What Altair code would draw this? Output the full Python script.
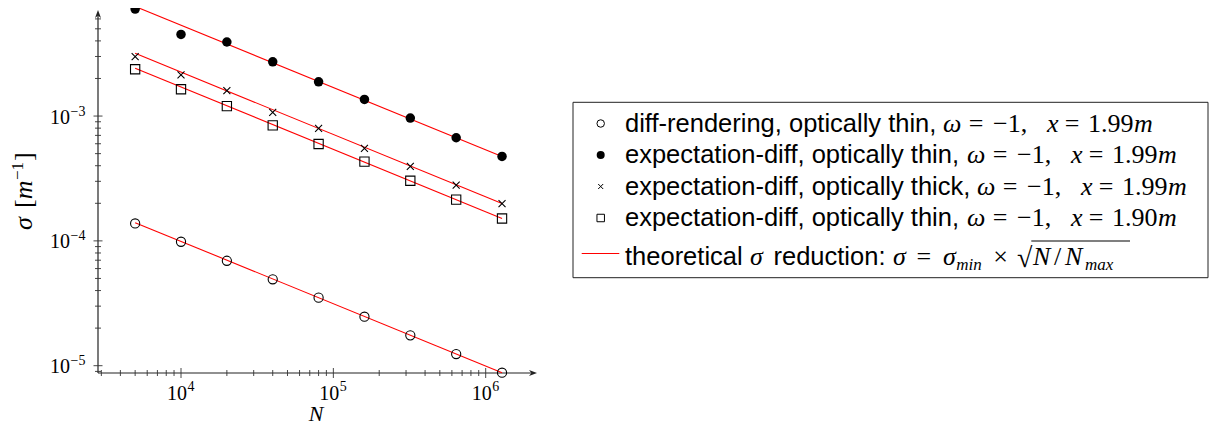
import altair as alt
import pandas as pd

# ---------------- data ----------------
N = [5000, 10000, 20000, 40000, 80000, 160000, 320000, 640000, 1280000]

sigma_diff_thin = [1.38e-4, 9.84e-5, 6.93e-5, 4.92e-5, 3.51e-5, 2.47e-5, 1.75e-5, 1.24e-5, 8.79e-6]
sigma_exp_thin = [7.19e-3, 4.51e-3, 3.92e-3, 2.72e-3, 1.88e-3, 1.36e-3, 9.64e-4, 6.70e-4, 4.75e-4]
sigma_exp_thick = [2.99e-3, 2.14e-3, 1.60e-3, 1.07e-3, 7.97e-4, 5.51e-4, 3.95e-4, 2.80e-4, 1.99e-4]
sigma_exp_thin_190 = [2.37e-3, 1.64e-3, 1.20e-3, 8.42e-4, 5.97e-4, 4.31e-4, 3.03e-4, 2.14e-4, 1.51e-4]

# theoretical reference lines: value at first and last N
theory_N = [5000, 1280000]
theory_diff_thin = [1.40e-4, 8.79e-6]
theory_exp_thin = [7.55e-3, 4.75e-4]
theory_exp_thick = [3.18e-3, 1.99e-4]
theory_exp_thin_190 = [2.42e-3, 1.51e-4]

x_major = [1e4, 1e5, 1e6]
x_major_exp = ["4", "5", "6"]
y_major = [1e-5, 1e-4, 1e-3]
y_major_exp = ["\u22125", "\u22124", "\u22123"]
x_minor = [m * 10 ** e for e in (3, 4, 5) for m in range(2, 10) if m * 10 ** e >= 3000]
y_minor = [9e-6] + [m * 10.0 ** e for e in (-5, -4, -3) for m in range(2, 10) if m * 10.0 ** e <= 6.5e-3]

legend_text = [
    "diff-rendering, optically thin,",
    "expectation-diff, optically thin,",
    "expectation-diff, optically thick,",
    "expectation-diff, optically thin,",
]
legend_x_values = ["1.99", "1.99", "1.99", "1.90"]

# ---------------- layout ----------------
W, H = 435, 359
SANS = "Liberation Sans"
SERIF = "Liberation Serif"
RED = "#ff0000"
FS = 25.5

xsc = alt.Scale(type="log", domain=[2852, 2.044e6], nice=False)
ysc = alt.Scale(type="log", domain=[8.74e-6, 6.57e-3], nice=False)

one = pd.DataFrame({"a": [0]})


def X(field="N"):
    return alt.X(f"{field}:Q", scale=xsc, axis=None)


def Y(field="s"):
    return alt.Y(f"{field}:Q", scale=ysc, axis=None)


def txt(s, x, y, size=FS, font=SANS, style="normal", align="left", angle=0, baseline="alphabetic"):
    return alt.Chart(one).mark_text(
        text=s, font=font, fontSize=size, fontStyle=style, align=align,
        baseline=baseline, angle=angle, color="black"
    ).encode(x=alt.value(x), y=alt.value(y))


layers = []

# axis lines
layers.append(alt.Chart(one).mark_rule(color="#222", strokeWidth=1.2).encode(
    x=alt.value(0), x2=alt.value(W), y=alt.value(H)))
layers.append(alt.Chart(one).mark_rule(color="#222", strokeWidth=1.2).encode(
    x=alt.value(0), y=alt.value(0), y2=alt.value(H)))
# arrow heads
layers.append(alt.Chart(one).mark_point(
    shape="M1,0L-1,-0.75L-0.4,0L-1,0.75Z", filled=True, color="#222", size=64, opacity=1
).encode(x=alt.value(W), y=alt.value(H)))
layers.append(alt.Chart(one).mark_point(
    shape="M0,-1L-0.75,1L0,0.4L0.75,1Z", filled=True, color="#222", size=64, opacity=1
).encode(x=alt.value(0), y=alt.value(0)))

# ticks (drawn across the axis line)
dxmin = pd.DataFrame({"N": x_minor})
dxmaj = pd.DataFrame({"N": x_major, "e": x_major_exp})
dymin = pd.DataFrame({"s": y_minor})
dymaj = pd.DataFrame({"s": y_major, "e": y_major_exp})
layers.append(alt.Chart(dxmin).mark_rule(color="#333", strokeWidth=0.9).encode(
    x=X(), y=alt.value(H - 3), y2=alt.value(H + 3)))
layers.append(alt.Chart(dxmaj).mark_rule(color="#333", strokeWidth=0.9).encode(
    x=X(), y=alt.value(H - 5), y2=alt.value(H + 5)))
layers.append(alt.Chart(dymin).mark_rule(color="#333", strokeWidth=0.9).encode(
    y=Y(), x=alt.value(-3), x2=alt.value(3)))
layers.append(alt.Chart(dymaj).mark_rule(color="#333", strokeWidth=0.9).encode(
    y=Y(), x=alt.value(-4.5), x2=alt.value(4.5)))

# tick labels 10^k
layers.append(alt.Chart(dxmaj).mark_text(text="10", font=SERIF, fontSize=20, align="right",
                                         baseline="alphabetic", dx=6, color="black").encode(
    x=X(), y=alt.value(H + 27)))
layers.append(alt.Chart(dxmaj).mark_text(font=SERIF, fontSize=14, align="left",
                                         baseline="alphabetic", dx=6.5, color="black").encode(
    x=X(), y=alt.value(H + 18), text="e:N"))
layers.append(alt.Chart(dymaj).mark_text(text="10", font=SERIF, fontSize=20, align="right",
                                         baseline="alphabetic", dy=7.5, color="black").encode(
    y=Y(), x=alt.value(-28)))
layers.append(alt.Chart(dymaj).mark_text(font=SERIF, fontSize=14, align="left",
                                         baseline="alphabetic", dy=-0.5, color="black").encode(
    y=Y(), x=alt.value(-27.5), text="e:N"))

# axis titles
layers.append(txt("N", 218, 412, size=22, font=SERIF, style="italic", align="center",
                  baseline="bottom"))
layers.append(txt("\u03c3", -66, 216, size=26, font=SERIF, style="italic", angle=270))
layers.append(txt("[", -66, 194, size=26, font=SERIF, angle=270))
layers.append(txt("m", -66, 185.3, size=26, font=SERIF, style="italic", angle=270))
layers.append(txt("\u22121", -75, 166, size=17, font=SERIF, angle=270))
layers.append(txt("]", -66, 147, size=26, font=SERIF, angle=270))

# theoretical lines
for i, tv in enumerate([theory_diff_thin, theory_exp_thin, theory_exp_thick, theory_exp_thin_190]):
    d = pd.DataFrame({"N": theory_N, "s": tv})
    layers.append(alt.Chart(d).mark_line(color=RED, strokeWidth=1.1).encode(x=X(), y=Y()))

# data markers
CROSS = "M-1,-1L1,1M-1,1L1,-1"
marker_specs = [
    (sigma_diff_thin, dict(shape="circle", filled=False, color="black", size=84, strokeWidth=1.1)),
    (sigma_exp_thin, dict(shape="circle", filled=True, color="black", size=90)),
    (sigma_exp_thick, dict(shape=CROSS, filled=False, color="black", size=49, strokeWidth=1.1)),
    (sigma_exp_thin_190, dict(shape="square", filled=False, color="black", size=86, strokeWidth=1.1)),
]
for vals, spec in marker_specs:
    d = pd.DataFrame({"N": N, "s": vals})
    layers.append(alt.Chart(d).mark_point(opacity=1, **spec).encode(x=X(), y=Y()))

# ---------------- legend ----------------
layers.append(alt.Chart(one).mark_rect(fill="white", stroke="#222", strokeWidth=1).encode(
    x=alt.value(475), x2=alt.value(1110), y=alt.value(88.3), y2=alt.value(263.7)))

row_base = [117.5, 149, 180.5, 212]
row_math = [845, 869, 879, 869]
sym_x = 502.7
leg_marks = [
    dict(shape="circle", filled=False, color="black", size=56, strokeWidth=1),
    dict(shape="circle", filled=True, color="black", size=64),
    dict(shape=CROSS, filled=False, color="black", size=25, strokeWidth=1),
    dict(shape="square", filled=False, color="black", size=56, strokeWidth=1),
]
for i in range(4):
    b = row_base[i]
    m = row_math[i]
    layers.append(alt.Chart(one).mark_point(opacity=1, **leg_marks[i]).encode(
        x=alt.value(sym_x), y=alt.value(b - 8)))
    layers.append(txt(legend_text[i], 527, b))
    layers.append(txt("\u03c9", m, b, size=26, font=SERIF, style="italic"))
    layers.append(txt("=", m + 33, b, size=26, font=SERIF, align="center"))
    layers.append(txt("\u22121,", m + 50, b, size=26, font=SERIF))
    layers.append(txt("x", m + 104, b, size=26, font=SERIF, style="italic"))
    layers.append(txt("=", m + 129, b, size=26, font=SERIF, align="center"))
    layers.append(txt(legend_x_values[i], m + 145, b, size=26, font=SERIF))
    layers.append(txt("m", m + 191, b, size=26, font=SERIF, style="italic"))

# row 5: theoretical line
b5 = 251
layers.append(alt.Chart(one).mark_rule(color=RED, strokeWidth=1.2).encode(
    x=alt.value(483.7), x2=alt.value(521.3), y=alt.value(b5 - 11.5)))
layers.append(txt("theoretical", 527, b5))
layers.append(txt("\u03c3", 652, b5, size=26, font=SERIF, style="italic"))
layers.append(txt("reduction:", 675.5, b5))
m5 = 795
layers.append(txt("\u03c3", m5, b5, size=26, font=SERIF, style="italic"))
layers.append(txt("=", m5 + 30.8, b5, size=26, font=SERIF, align="center"))
layers.append(txt("\u03c3", m5 + 50, b5, size=26, font=SERIF, style="italic"))
layers.append(txt("min", m5 + 63.3, b5 + 5, size=17, font=SERIF, style="italic"))
layers.append(txt("\u00d7", m5 + 107.5, b5, size=26, font=SERIF, align="center"))
layers.append(txt("\u221a", m5 + 124, b5 + 2, size=28, font=SERIF))
layers.append(alt.Chart(one).mark_rule(color="black", strokeWidth=1.1).encode(
    x=alt.value(m5 + 138.3), x2=alt.value(m5 + 237), y=alt.value(b5 - 24)))
layers.append(txt("N", m5 + 140, b5, size=26, font=SERIF, style="italic"))
layers.append(txt("/", m5 + 161, b5, size=26, font=SERIF))
layers.append(txt("N", m5 + 172, b5, size=26, font=SERIF, style="italic"))
layers.append(txt("max", m5 + 192, b5 + 5, size=17, font=SERIF, style="italic"))

chart = alt.layer(*layers).properties(
    width=W, height=H,
    padding={"left": 90, "top": 6, "right": 680, "bottom": 53},
    autosize=alt.AutoSizeParams(type="none"),
    background="white",
).configure_view(stroke=None)

chart.save("out.html", embed_options={"renderer": "svg", "actions": False})
